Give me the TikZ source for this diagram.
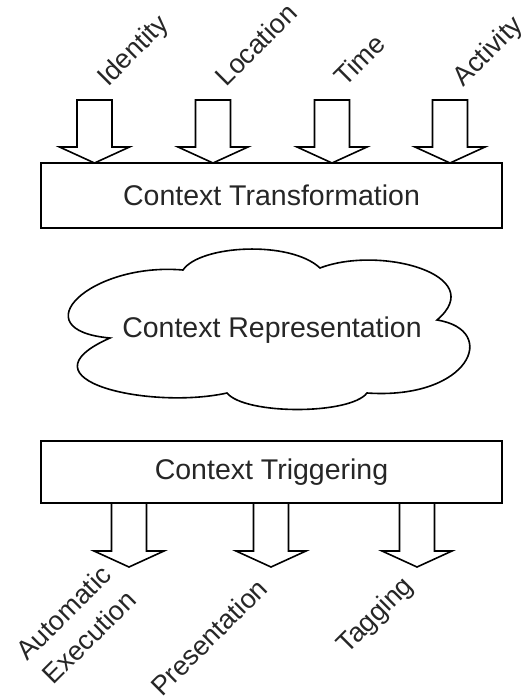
\documentclass[tikz,border=0pt]{standalone}
\usepackage{fontspec}
\setmainfont{Liberation Sans}
\usetikzlibrary{calc}
\begin{document}
\begin{tikzpicture}[x=1pt,y=-1pt,line width=1.6pt,
  lbl/.style={font=\fontsize{28.5}{36}\selectfont,text=black!85},
  rlbl/.style={font=\fontsize{27}{35}\selectfont,text=black!85,rotate=45,inner sep=0pt},
  box/.style={draw,fill=white,minimum width=461pt,inner sep=0pt,lbl},
  blk/.style={draw,fill=white,line join=miter}]
\useasboundingbox (0,0) rectangle (527,696);
% boxes
\node[box,minimum height=65pt] (ct) at (271.5,195.5) {Context Transformation};
\node[box,minimum height=62pt] (trig) at (271.5,472) {Context Triggering};
% top block arrows
\foreach \cx/\nm/\txt in {94.5/id/Identity,213/loc/Location,332/tim/Time,450/act/Activity}{
  \coordinate (a\nm) at (\cx,100);
  \draw[blk] (a\nm) ++(-17.5,0) -- ++(35,0) -- ++(0,47) -- ++(17.5,0) -- ($(a\nm)+(0,63)$) -- ++(-35,-16) -- ++(17.5,0) -- cycle;
  \node[rlbl,anchor=base west] (l\nm) at ($(a\nm)+(13,-12)$) {\txt};
}
% bottom block arrows
\foreach \cx/\nm in {129/ae,271/pr,417/tg}{
  \coordinate (b\nm) at (\cx,503);
  \draw[blk] (b\nm) ++(-17.5,0) -- ++(35,0) -- ++(0,48) -- ++(17.5,0) -- ($(b\nm)+(0,64)$) -- ++(-35,-16) -- ++(17.5,0) -- cycle;
}
\node[rlbl,anchor=east,align=right] (lae) at (119,582) {Automatic\\Execution};
\node[rlbl,anchor=east] (lpr) at (263,583) {Presentation};
\node[rlbl,anchor=east] (ltg) at (410,582) {Tagging};
% cloud
\draw[fill=white] (110,338)
  .. controls (20,330) and (90,262) .. (183,270)
  .. controls (200,245) and (290,240) .. (320,268)
  .. controls (380,245) and (490,275) .. (437,320)
  .. controls (500,330) and (470,400) .. (367,393)
  .. controls (350,415) and (245,415) .. (227,393)
  .. controls (150,410) and (15,380) .. cycle;
\node[lbl] (cr) at (272,330) {Context Representation};
\end{tikzpicture}
\end{document}
